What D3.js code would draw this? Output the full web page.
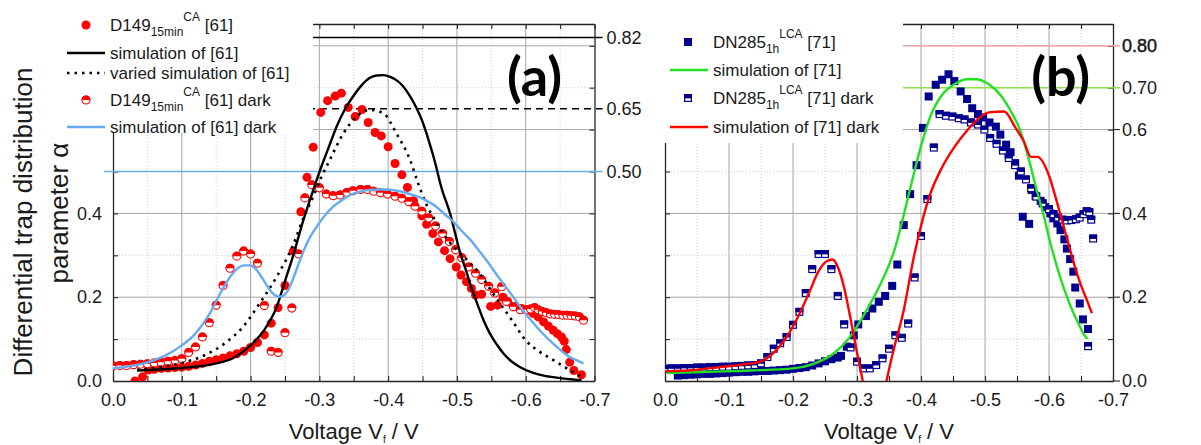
<!DOCTYPE html>
<html lang="en">
<head>
<meta charset="utf-8">
<title>Differential trap distribution parameter</title>
<script src="https://cdnjs.cloudflare.com/ajax/libs/d3/7.8.5/d3.min.js"></script>
<style>
body { margin: 0; background: #fff; }
</style>
</head>
<body>
<script>
// ---- data: [voltage V_f, alpha] ----
// panel (a)
var d149 = [[-0.032,0.0],[-0.043,0.01],[-0.051,0.026],[-0.06,0.028],[-0.07,0.03],[-0.08,0.031],[-0.09,0.032],[-0.10,0.033],
  [-0.11,0.035],[-0.12,0.038],[-0.13,0.042],[-0.14,0.047],[-0.15,0.051],[-0.16,0.055],[-0.17,0.06],[-0.18,0.065],[-0.19,0.071],
  [-0.20,0.08],[-0.21,0.092],[-0.22,0.11],[-0.23,0.138],[-0.24,0.175],[-0.25,0.228],[-0.262,0.31],[-0.273,0.404],[-0.282,0.486],
  [-0.291,0.558],[-0.302,0.641],[-0.312,0.669],[-0.323,0.68],[-0.332,0.687],[-0.342,0.653],[-0.352,0.631],[-0.362,0.648],
  [-0.371,0.617],[-0.381,0.593],[-0.39,0.585],[-0.40,0.559],[-0.41,0.519],[-0.42,0.492],[-0.428,0.462],[-0.437,0.43],
  [-0.449,0.394],[-0.456,0.374],[-0.465,0.352],[-0.473,0.332],[-0.482,0.311],[-0.49,0.292],[-0.499,0.272],[-0.506,0.253],
  [-0.514,0.237],[-0.521,0.221],[-0.527,0.205],[-0.536,0.207],[-0.549,0.178],[-0.559,0.181],[-0.567,0.2],[-0.574,0.189],
  [-0.584,0.178],[-0.594,0.173],[-0.604,0.169],[-0.611,0.161],[-0.618,0.153],[-0.626,0.141],[-0.633,0.131],[-0.64,0.121],
  [-0.646,0.113],[-0.652,0.105],[-0.656,0.095],[-0.659,0.075],[-0.664,0.045],[-0.67,0.025],[-0.681,0.015]];
var d149Dark = [[0,0.036],[-0.01,0.037],[-0.02,0.037],[-0.03,0.039],[-0.04,0.04],[-0.05,0.041],[-0.06,0.043],[-0.07,0.045],
  [-0.08,0.047],[-0.09,0.049],[-0.10,0.053],[-0.11,0.068],[-0.12,0.081],[-0.13,0.105],[-0.14,0.139],[-0.15,0.181],[-0.16,0.228],
  [-0.17,0.269],[-0.18,0.298],[-0.19,0.31],[-0.20,0.303],[-0.21,0.281],[-0.22,0.18],[-0.23,0.071],[-0.24,0.068],[-0.25,0.115],
  [-0.26,0.174],[-0.27,0.303],[-0.279,0.437],[-0.289,0.468],[-0.30,0.461],[-0.31,0.446],[-0.32,0.442],[-0.33,0.444],[-0.34,0.45],
  [-0.349,0.454],[-0.36,0.457],[-0.37,0.457],[-0.379,0.453],[-0.389,0.449],[-0.399,0.446],[-0.41,0.441],[-0.42,0.436],
  [-0.43,0.428],[-0.439,0.417],[-0.449,0.405],[-0.459,0.389],[-0.469,0.37],[-0.479,0.352],[-0.489,0.333],[-0.498,0.313],
  [-0.507,0.294],[-0.517,0.272],[-0.527,0.257],[-0.536,0.242],[-0.546,0.226],[-0.555,0.21],[-0.565,0.225],[-0.572,0.19],
  [-0.582,0.177],[-0.592,0.17],[-0.60,0.17],[-0.607,0.172],[-0.613,0.175],[-0.618,0.17],[-0.624,0.166],[-0.63,0.163],
  [-0.636,0.16],[-0.642,0.159],[-0.648,0.158],[-0.654,0.157],[-0.66,0.157],[-0.666,0.156],[-0.672,0.155],[-0.678,0.153],[-0.684,0.145]];
var sim61 = [[-0.035,0.025],[-0.05,0.026],[-0.1,0.031],[-0.15,0.042],[-0.175,0.055],[-0.2,0.085],[-0.22,0.122],[-0.238,0.177],
  [-0.25,0.238],[-0.262,0.3],[-0.277,0.385],[-0.29,0.45],[-0.301,0.503],[-0.313,0.555],[-0.325,0.607],[-0.337,0.648],[-0.349,0.679],
  [-0.361,0.705],[-0.373,0.723],[-0.383,0.729],[-0.393,0.73],[-0.403,0.726],[-0.412,0.718],[-0.422,0.703],[-0.432,0.679],
  [-0.441,0.652],[-0.449,0.623],[-0.456,0.59],[-0.461,0.563],[-0.466,0.535],[-0.47,0.51],[-0.473,0.49],[-0.476,0.47],[-0.48,0.448],
  [-0.485,0.425],[-0.49,0.4],[-0.497,0.355],[-0.504,0.31],[-0.512,0.27],[-0.519,0.233],[-0.526,0.2],[-0.533,0.169],[-0.54,0.14],
  [-0.548,0.113],[-0.558,0.087],[-0.568,0.065],[-0.58,0.046],[-0.592,0.033],[-0.61,0.02],[-0.626,0.013],[-0.645,0.008],
  [-0.66,0.005],[-0.681,0.002]];
var sim61Varied = [[-0.035,0.027],[-0.068,0.033],[-0.1,0.043],[-0.134,0.062],[-0.165,0.093],[-0.189,0.129],[-0.213,0.185],
  [-0.238,0.249],[-0.262,0.325],[-0.277,0.39],[-0.291,0.44],[-0.303,0.487],[-0.315,0.527],[-0.335,0.591],[-0.354,0.631],
  [-0.373,0.647],[-0.393,0.639],[-0.412,0.591],[-0.432,0.527],[-0.444,0.47],[-0.456,0.42],[-0.466,0.39],[-0.478,0.357],
  [-0.49,0.33],[-0.504,0.306],[-0.52,0.28],[-0.536,0.25],[-0.55,0.215],[-0.565,0.18],[-0.58,0.145],[-0.6,0.097],[-0.62,0.07],
  [-0.64,0.05],[-0.66,0.03],[-0.68,0.01]];
var sim61Dark = [[0,0.03],[-0.051,0.045],[-0.075,0.06],[-0.1,0.085],[-0.118,0.11],[-0.131,0.137],[-0.142,0.165],[-0.153,0.2],
  [-0.163,0.23],[-0.173,0.255],[-0.182,0.27],[-0.19,0.276],[-0.2,0.276],[-0.207,0.268],[-0.214,0.253],[-0.221,0.235],
  [-0.228,0.217],[-0.235,0.205],[-0.241,0.201],[-0.247,0.203],[-0.254,0.215],[-0.262,0.245],[-0.27,0.28],[-0.277,0.31],
  [-0.287,0.345],[-0.296,0.368],[-0.308,0.395],[-0.32,0.416],[-0.333,0.432],[-0.345,0.444],[-0.36,0.452],[-0.373,0.456],
  [-0.386,0.457],[-0.398,0.457],[-0.41,0.455],[-0.422,0.451],[-0.434,0.445],[-0.446,0.438],[-0.458,0.428],[-0.47,0.416],
  [-0.482,0.398],[-0.495,0.38],[-0.507,0.358],[-0.519,0.338],[-0.531,0.313],[-0.543,0.288],[-0.555,0.26],[-0.567,0.233],
  [-0.58,0.205],[-0.592,0.177],[-0.604,0.152],[-0.616,0.129],[-0.628,0.108],[-0.64,0.089],[-0.652,0.072],[-0.664,0.057],
  [-0.676,0.048],[-0.684,0.042]];
// panel (b)
var dn285 = [[-0.02,0.013],[-0.03,0.014],[-0.04,0.015],[-0.05,0.016],[-0.06,0.017],[-0.07,0.017],[-0.08,0.018],[-0.09,0.019],
  [-0.10,0.02],[-0.11,0.021],[-0.12,0.022],[-0.13,0.022],[-0.14,0.023],[-0.15,0.024],[-0.16,0.024],[-0.17,0.025],[-0.18,0.026],
  [-0.19,0.027],[-0.20,0.029],[-0.21,0.031],[-0.22,0.033],[-0.23,0.037],[-0.24,0.042],[-0.25,0.047],[-0.26,0.052],[-0.27,0.056],
  [-0.275,0.06],[-0.284,0.082],[-0.295,0.109],[-0.302,0.135],[-0.314,0.155],[-0.324,0.173],[-0.334,0.189],[-0.344,0.203],
  [-0.355,0.227],[-0.363,0.278],[-0.373,0.372],[-0.383,0.446],[-0.393,0.515],[-0.403,0.604],[-0.412,0.679],[-0.423,0.707],
  [-0.433,0.719],[-0.443,0.732],[-0.452,0.716],[-0.462,0.691],[-0.472,0.673],[-0.48,0.651],[-0.489,0.637],[-0.497,0.629],
  [-0.507,0.617],[-0.517,0.607],[-0.524,0.588],[-0.533,0.564],[-0.54,0.546],[-0.547,0.52],[-0.553,0.49],[-0.559,0.392],
  [-0.569,0.375],[-0.573,0.456],[-0.579,0.442],[-0.587,0.43],[-0.594,0.415],[-0.602,0.40],[-0.607,0.388],[-0.613,0.376],
  [-0.618,0.36],[-0.624,0.338],[-0.628,0.316],[-0.633,0.291],[-0.638,0.261],[-0.641,0.223],[-0.648,0.185],[-0.653,0.147],[-0.661,0.124]];
var dn285Dark = [[0,0.029],[-0.01,0.03],[-0.02,0.03],[-0.03,0.031],[-0.04,0.031],[-0.05,0.032],[-0.06,0.032],[-0.07,0.033],
  [-0.08,0.033],[-0.09,0.034],[-0.10,0.034],[-0.11,0.035],[-0.12,0.036],[-0.13,0.037],[-0.14,0.038],[-0.15,0.042],[-0.16,0.057],
  [-0.17,0.077],[-0.18,0.09],[-0.19,0.105],[-0.20,0.134],[-0.21,0.165],[-0.22,0.21],[-0.23,0.267],[-0.24,0.303],[-0.25,0.303],
  [-0.26,0.267],[-0.27,0.203],[-0.28,0.135],[-0.29,0.08],[-0.30,0.046],[-0.31,0.03],[-0.32,0.03],[-0.33,0.038],[-0.34,0.054],
  [-0.35,0.077],[-0.36,0.109],[-0.37,0.103],[-0.38,0.137],[-0.39,0.247],[-0.40,0.346],[-0.41,0.434],[-0.42,0.557],[-0.429,0.637],
  [-0.439,0.633],[-0.449,0.631],[-0.459,0.627],[-0.468,0.624],[-0.478,0.617],[-0.489,0.612],[-0.499,0.60],[-0.508,0.58],
  [-0.518,0.566],[-0.528,0.55],[-0.537,0.532],[-0.547,0.515],[-0.556,0.50],[-0.564,0.481],[-0.572,0.46],[-0.58,0.44],
  [-0.59,0.424],[-0.60,0.41],[-0.607,0.398],[-0.614,0.39],[-0.621,0.385],[-0.628,0.383],[-0.635,0.384],[-0.642,0.386],
  [-0.648,0.39],[-0.654,0.398],[-0.659,0.405],[-0.663,0.403],[-0.666,0.385],[-0.669,0.34],[-0.661,0.083]];
var sim71 = [[-0.003,0.019],[-0.065,0.022],[-0.133,0.025],[-0.2,0.03],[-0.232,0.041],[-0.263,0.065],[-0.289,0.105],
  [-0.315,0.169],[-0.342,0.249],[-0.358,0.31],[-0.372,0.39],[-0.384,0.465],[-0.399,0.555],[-0.413,0.625],[-0.433,0.683],
  [-0.452,0.708],[-0.472,0.72],[-0.486,0.72],[-0.506,0.708],[-0.525,0.681],[-0.54,0.645],[-0.555,0.598],[-0.569,0.526],
  [-0.58,0.46],[-0.59,0.405],[-0.602,0.33],[-0.617,0.25],[-0.632,0.185],[-0.646,0.137],[-0.655,0.11],[-0.66,0.1]];
var sim71Dark = [[0,0.023],[-0.05,0.027],[-0.09,0.034],[-0.12,0.039],[-0.15,0.047],[-0.17,0.068],[-0.19,0.105],[-0.21,0.16],
  [-0.225,0.21],[-0.24,0.262],[-0.252,0.285],[-0.262,0.29],[-0.27,0.272],[-0.28,0.222],[-0.29,0.148],[-0.30,0.068],[-0.309,0.0],
  [-0.315,-0.045],[-0.34,-0.045],[-0.346,0.0],[-0.357,0.073],[-0.373,0.169],[-0.388,0.29],[-0.40,0.37],[-0.413,0.44],
  [-0.433,0.51],[-0.452,0.558],[-0.472,0.598],[-0.491,0.628],[-0.506,0.641],[-0.53,0.643],[-0.547,0.606],[-0.56,0.574],
  [-0.572,0.535],[-0.582,0.535],[-0.60,0.49],[-0.61,0.44],[-0.62,0.385],[-0.63,0.33],[-0.64,0.275],[-0.65,0.228],[-0.66,0.19],[-0.667,0.162]];

// ticks and reference levels
var xTicks = d3.range(0, 15).map(function(i) { return -i * 0.05; });   // every 0.05, labels on every 0.1
var yTicks = d3.range(0, 9).map(function(i) { return i / 10; });
var yLabelsLeftA = [0, 0.2, 0.4];
var refA = [0.82, 0.65, 0.50];
var refALabels = ["0.82", "0.65", "0.50"];
var yLabelsRightB = [0, 0.2, 0.4, 0.6];
var refB = [0.80, 0.70];
var refBLabels = ["0.80", "0.70"];

var FONT = "'Liberation Sans', Arial, sans-serif";
var w = 1201, h = 445;

var svg = d3.select("body").append("svg")
  .attr("width", w)
  .attr("height", h)
  .attr("font-family", FONT);

var y = d3.scaleLinear().domain([0, 0.852]).range([381, 24]);
var xa = d3.scaleLinear().domain([0, -0.7]).range([113, 594.5]);
var xb = d3.scaleLinear().domain([0, -0.7]).range([665, 1113]);

function fmtX(d) {
  return Math.abs(d) < 1e-9 ? "0.0" : "-" + Math.abs(d).toFixed(1);
}

// grid + axes frame for one panel
function frame(x, id, leftLabels) {
  var r = x.range();
  var g = svg.append("g");
  svg.append("clipPath").attr("id", id).append("rect")
    .attr("x", r[0]).attr("y", y(0.852)).attr("width", r[1] - r[0]).attr("height", y(0) - y(0.852));

  g.selectAll(".gv").data(xTicks.slice(1, 14)).enter().append("line")
    .attr("x1", function(d) { return x(d); }).attr("x2", function(d) { return x(d); })
    .attr("y1", y(0.852)).attr("y2", y(0))
    .attr("stroke", function(d, i) { return i % 2 ? "#a6a6a6" : "#cfcfcf"; })
    .attr("stroke-dasharray", function(d, i) { return i % 2 ? null : "1,2"; });
  g.selectAll(".gh").data(yTicks.slice(1)).enter().append("line")
    .attr("x1", r[0]).attr("x2", r[1])
    .attr("y1", function(d) { return y(d); }).attr("y2", function(d) { return y(d); })
    .attr("stroke", function(d, i) { return i % 2 ? "#a6a6a6" : "#cfcfcf"; })
    .attr("stroke-dasharray", function(d, i) { return i % 2 ? null : "1,2"; });

  var ax = svg.append("g").attr("color", "#262626");
  ax.append("g").attr("transform", "translate(0," + y(0) + ")")
    .call(d3.axisBottom(x).tickValues(xTicks).tickSize(-5).tickSizeOuter(0).tickPadding(12)
      .tickFormat(function(d, i) { return i % 2 === 0 ? fmtX(d) : ""; }));
  ax.append("g").attr("transform", "translate(0," + y(0.852) + ")")
    .call(d3.axisTop(x).tickValues(xTicks).tickSize(-5).tickSizeOuter(0).tickFormat(""));
  ax.append("g").attr("transform", "translate(" + r[0] + ",0)")
    .call(d3.axisLeft(y).tickValues(yTicks).tickSize(-5).tickSizeOuter(0).tickPadding(11)
      .tickFormat(function(d) {
        return leftLabels.some(function(v) { return Math.abs(v - d) < 1e-9; }) ? d.toFixed(1) : "";
      }));
  ax.append("g").attr("transform", "translate(" + r[1] + ",0)")
    .call(d3.axisRight(y).tickValues(yTicks).tickSize(-5).tickSizeOuter(0).tickFormat(""));
  // d3 puts its own font on every axis group, so set ours afterwards
  ax.selectAll("g").filter(function() { return this.parentNode === ax.node(); })
    .attr("font-size", 18).attr("font-family", FONT);
  ax.selectAll("text").attr("fill", "#1a1a1a");
  ax.selectAll(".domain").attr("stroke-width", 1.3);
  ax.selectAll(".tick line").attr("stroke-width", 1.1);
}

frame(xa, "clipA", yLabelsLeftA);
frame(xb, "clipB", []);

// reference levels on the right axes
var refAColors = ["#000", "#000", "#6aaef0"];
svg.selectAll(".refA").data(refA).enter().append("line")
  .attr("x1", 104).attr("x2", xa.range()[1] + 8)
  .attr("y1", function(d) { return y(d); }).attr("y2", function(d) { return y(d); })
  .attr("stroke", function(d, i) { return refAColors[i]; })
  .attr("stroke-width", function(d, i) { return i === 2 ? 1.6 : 1.5; })
  .attr("stroke-dasharray", function(d, i) { return i === 1 ? "7,5" : null; });
svg.selectAll(".refAt").data(refA).enter().append("text")
  .attr("x", xa.range()[1] + 12).attr("y", function(d) { return y(d); }).attr("dy", "0.35em")
  .attr("font-size", 18).attr("fill", "#1a1a1a")
  .text(function(d, i) { return refALabels[i]; });

var refBColors = ["#f2a5ac", "#8be04a"];
svg.selectAll(".refB").data(refB).enter().append("line")
  .attr("x1", xb.range()[0]).attr("x2", xb.range()[1] + 7)
  .attr("y1", function(d) { return y(d); }).attr("y2", function(d) { return y(d); })
  .attr("stroke", function(d, i) { return refBColors[i]; })
  .attr("stroke-width", 1.6);
svg.selectAll(".tickB").data(yLabelsRightB).enter().append("line")
  .attr("x1", xb.range()[1]).attr("x2", xb.range()[1] + 7)
  .attr("y1", function(d) { return y(d); }).attr("y2", function(d) { return y(d); })
  .attr("stroke", "#262626").attr("stroke-width", 1.1);
svg.selectAll(".labB").data(yLabelsRightB).enter().append("text")
  .attr("x", xb.range()[1] + 9).attr("y", function(d) { return y(d); }).attr("dy", "0.35em")
  .attr("font-size", 18).attr("fill", "#1a1a1a")
  .text(function(d) { return d.toFixed(1); });
svg.selectAll(".refBt").data(refB).enter().append("text")
  .attr("x", xb.range()[1] + 9).attr("y", function(d) { return y(d); }).attr("dy", "0.35em")
  .attr("font-size", 18).attr("fill", "#1a1a1a")
  .attr("stroke", function(d, i) { return i === 0 ? "#1a1a1a" : null; })
  .attr("stroke-width", 0.5)
  .text(function(d, i) { return refBLabels[i]; });

// markers
var RED = "#ff0000", NAVY = "#00008f";
var r = 4.5, s = 8;

function dots(x, clip, data) {
  svg.append("g").attr("clip-path", "url(#" + clip + ")")
    .selectAll("circle").data(data).enter().append("circle")
    .attr("cx", function(d) { return x(d[0]); }).attr("cy", function(d) { return y(d[1]); })
    .attr("r", r).attr("fill", RED);
}
function halfDots(x, clip, data) {
  var g = svg.append("g").attr("clip-path", "url(#" + clip + ")")
    .selectAll("g").data(data).enter().append("g")
    .attr("transform", function(d) { return "translate(" + x(d[0]) + "," + y(d[1]) + ")"; });
  g.append("circle").attr("r", r - 0.5).attr("fill", "#fff").attr("stroke", RED).attr("stroke-width", 1.1);
  g.append("path").attr("d", "M" + (-r) + ",0A" + r + "," + r + " 0 0 1 " + r + ",0Z").attr("fill", RED);
}
function squares(x, clip, data) {
  svg.append("g").attr("clip-path", "url(#" + clip + ")")
    .selectAll("rect").data(data).enter().append("rect")
    .attr("x", function(d) { return x(d[0]) - s / 2; }).attr("y", function(d) { return y(d[1]) - s / 2; })
    .attr("width", s).attr("height", s).attr("fill", NAVY);
}
function halfSquares(x, clip, data) {
  var g = svg.append("g").attr("clip-path", "url(#" + clip + ")")
    .selectAll("g").data(data).enter().append("g")
    .attr("transform", function(d) { return "translate(" + x(d[0]) + "," + y(d[1]) + ")"; });
  g.append("rect").attr("x", -s / 2 + 0.6).attr("y", -s / 2 + 0.6).attr("width", s - 1.2).attr("height", s - 1.2)
    .attr("fill", "#fff").attr("stroke", NAVY).attr("stroke-width", 1.2);
  g.append("rect").attr("x", -s / 2).attr("y", -s / 2).attr("width", s).attr("height", s * 0.55).attr("fill", NAVY);
}

dots(xa, "clipA", d149);
halfDots(xa, "clipA", d149Dark);
squares(xb, "clipB", dn285);
halfSquares(xb, "clipB", dn285Dark);

// simulation curves
function curve(x, clip, data, color, dash) {
  var line = d3.line()
    .x(function(d) { return x(d[0]); })
    .y(function(d) { return y(d[1]); })
    .curve(d3.curveMonotoneX);
  svg.append("path").attr("clip-path", "url(#" + clip + ")")
    .attr("d", line(data)).attr("fill", "none")
    .attr("stroke", color).attr("stroke-width", dash ? 2.6 : 2.4)
    .attr("stroke-dasharray", dash || null);
}
var BLUE = "#66aaf0", GREEN = "#22e022";
curve(xa, "clipA", sim61, "#000");
curve(xa, "clipA", sim61Varied, "#000", "2.5,5");
curve(xa, "clipA", sim61Dark, BLUE);
curve(xb, "clipB", sim71, GREEN);
curve(xb, "clipB", sim71Dark, RED);

// panel letters
svg.append("text").attr("x", 562).attr("y", 96).attr("text-anchor", "end")
  .attr("font-family", "Lato, 'Open Sans', sans-serif").attr("font-weight", 700).attr("font-size", 54)
  .attr("fill", "#000").text("(a)");
svg.append("text").attr("x", 1090).attr("y", 96).attr("text-anchor", "end")
  .attr("font-family", "Lato, 'Open Sans', sans-serif").attr("font-weight", 700).attr("font-size", 54)
  .attr("fill", "#000").text("(b)");

// axis titles
[xa, xb].forEach(function(x) {
  var r0 = x.range();
  var t = svg.append("text").attr("x", (r0[0] + r0[1]) / 2).attr("y", 439)
    .attr("text-anchor", "middle").attr("font-size", 22).attr("fill", "#1a1a1a");
  t.append("tspan").text("Voltage V");
  t.append("tspan").attr("font-size", 10).attr("dy", 4).text("f");
  t.append("tspan").attr("dy", -4).text(" / V");
});
svg.append("text").attr("transform", "translate(32,222) rotate(-90)")
  .attr("text-anchor", "middle").attr("font-size", 26).attr("fill", "#1a1a1a")
  .text("Differential trap distribution");
svg.append("text").attr("transform", "translate(68,213) rotate(-90)")
  .attr("text-anchor", "middle").attr("font-size", 26).attr("fill", "#1a1a1a")
  .text("parameter \u03b1");

// legends (opaque boxes over the plot corners)
svg.append("rect").attr("x", 62).attr("y", 0).attr("width", 313 - 62).attr("height", 133).attr("fill", "#fff");
svg.append("rect").attr("x", 650).attr("y", 0).attr("width", 903 - 650).attr("height", 143).attr("fill", "#fff");

function legendText(x0, yb, main, sub, sup, rest) {
  var t = svg.append("text").attr("x", x0).attr("y", yb).attr("font-size", 17).attr("fill", "#1a1a1a");
  t.append("tspan").text(main);
  if (sub) {
    t.append("tspan").attr("font-size", 12).attr("dy", 5).text(sub);
    t.append("tspan").attr("font-size", 12).attr("dy", -15).text(sup);
    t.append("tspan").attr("dy", 10).text(rest);
  }
}
// (a)
var la = svg.append("g");
la.append("circle").attr("cx", 86).attr("cy", 25).attr("r", r).attr("fill", RED);
legendText(110, 31, "D149", "15min", "CA", " [61]");
la.append("line").attr("x1", 67).attr("x2", 105).attr("y1", 53).attr("y2", 53).attr("stroke", "#000").attr("stroke-width", 2.4);
legendText(110, 59, "simulation of [61]");
la.append("line").attr("x1", 67).attr("x2", 105).attr("y1", 73).attr("y2", 73).attr("stroke", "#000").attr("stroke-width", 2.6).attr("stroke-dasharray", "2.5,5");
legendText(110, 79, "varied simulation of [61]");
var hc = la.append("g").attr("transform", "translate(86,100)");
hc.append("circle").attr("r", r - 0.5).attr("fill", "#fff").attr("stroke", RED).attr("stroke-width", 1.1);
hc.append("path").attr("d", "M" + (-r) + ",0A" + r + "," + r + " 0 0 1 " + r + ",0Z").attr("fill", RED);
legendText(110, 106, "D149", "15min", "CA", " [61] dark");
la.append("line").attr("x1", 67).attr("x2", 105).attr("y1", 127).attr("y2", 127).attr("stroke", BLUE).attr("stroke-width", 2.4);
legendText(110, 133, "simulation of [61] dark");
// (b)
var lb = svg.append("g");
lb.append("rect").attr("x", 688 - s / 2).attr("y", 42 - s / 2).attr("width", s).attr("height", s).attr("fill", NAVY);
legendText(713, 48, "DN285", "1h", "LCA", " [71]");
lb.append("line").attr("x1", 670).attr("x2", 708).attr("y1", 70).attr("y2", 70).attr("stroke", GREEN).attr("stroke-width", 2.4);
legendText(713, 76, "simulation of [71]");
var hs = lb.append("g").attr("transform", "translate(688,98)");
hs.append("rect").attr("x", -s / 2 + 0.6).attr("y", -s / 2 + 0.6).attr("width", s - 1.2).attr("height", s - 1.2)
  .attr("fill", "#fff").attr("stroke", NAVY).attr("stroke-width", 1.2);
hs.append("rect").attr("x", -s / 2).attr("y", -s / 2).attr("width", s).attr("height", s * 0.55).attr("fill", NAVY);
legendText(713, 104, "DN285", "1h", "LCA", " [71] dark");
lb.append("line").attr("x1", 670).attr("x2", 708).attr("y1", 127).attr("y2", 127).attr("stroke", RED).attr("stroke-width", 2.4);
legendText(713, 133, "simulation of [71] dark");
</script>
</body>
</html>
